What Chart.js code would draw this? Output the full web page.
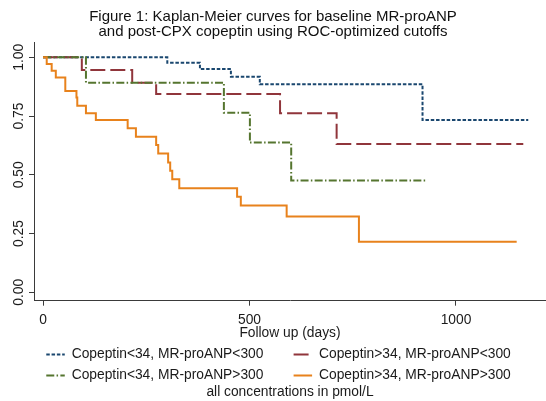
<!DOCTYPE html>
<html><head><meta charset="utf-8">
<script src="https://cdn.jsdelivr.net/npm/chart.js@4/dist/chart.umd.min.js"></script>
<style>html,body{margin:0;padding:0;background:#fff;}canvas{display:block;}</style>
</head><body>
<canvas id="c" width="546" height="401"></canvas>
<script>
// ---- Data ----
const seriesNames = [
  'Copeptin<34, MR-proANP<300',
  'Copeptin>34, MR-proANP<300',
  'Copeptin<34, MR-proANP>300',
  'Copeptin>34, MR-proANP>300'
];
const daysA = [0, 301, 380, 455, 525, 919, 1175];
const survA = [1, 0.977, 0.950, 0.917, 0.885, 0.733, 0.733];
const daysB = [0, 94, 216, 274, 574, 711, 1163];
const survB = [1, 0.946, 0.892, 0.844, 0.762, 0.631, 0.631];
const daysC = [0, 104, 438, 501, 601, 927];
const survC = [1, 0.892, 0.764, 0.637, 0.476, 0.476];
const daysD = [0, 9, 21, 31, 54, 81, 83, 104, 128, 205, 225, 274, 279, 303, 308, 313, 330, 470, 479, 590, 765, 1147];
const survD = [1, 0.971, 0.943, 0.914, 0.857, 0.829, 0.794, 0.762, 0.733, 0.698, 0.662, 0.627, 0.591, 0.552, 0.517, 0.481, 0.443, 0.407, 0.369, 0.322, 0.215, 0.215];
const xTickValues = [0, 500, 1000];
const xTickLabels = ['0', '500', '1000'];
const yTickValues = [0, 0.25, 0.5, 0.75, 1];
const yTickLabels = ['0.00', '0.25', '0.50', '0.75', '1.00'];
const titleLines = ['Figure 1: Kaplan-Meier curves for baseline MR-proANP', 'and post-CPX copeptin using ROC-optimized cutoffs'];
const xTitle = 'Follow up (days)';
const noteText = 'all concentrations in pmol/L';

// ---- Styles ----
const FONT = "'Liberation Sans', Arial, Helvetica, sans-serif";
const TXT = '#1a1a1a';
const AX = '#3a3a3a';
Chart.defaults.font.family = FONT;
Chart.defaults.color = TXT;

const zip = (xs, ys) => xs.map((x, i) => ({x: x, y: ys[i]}));
const styles = [
  {color: '#1a476f', dash: [3.5, 1.8], order: 3},
  {color: '#90353b', dash: [15, 5], order: 2},
  {color: '#55752f', dash: [8, 2.3, 1.5, 2.3], order: 1},
  {color: '#e8821c', dash: [], order: 0}
];
const series = [[daysA, survA], [daysB, survB], [daysC, survC], [daysD, survD]];

const datasets = series.map((s, i) => ({
  label: seriesNames[i],
  data: zip(s[0], s[1]),
  borderColor: styles[i].color,
  backgroundColor: styles[i].color,
  borderDash: styles[i].dash,
  borderWidth: 2,
  borderCapStyle: 'butt',
  stepped: true,
  showLine: true,
  fill: false,
  pointRadius: 0,
  pointHoverRadius: 0,
  order: styles[i].order
}));

new Chart(document.getElementById('c'), {
  type: 'scatter',
  data: {datasets: datasets},
  options: {
    responsive: false,
    animation: false,
    events: [],
    layout: {padding: {top: 0, left: 0, right: 0, bottom: 0}},
    scales: {
      x: {
        type: 'linear',
        min: -21.8,
        max: 1218,
        afterBuildTicks: (sc) => { sc.ticks = xTickValues.map(v => ({value: v})); },
        ticks: {
          autoSkip: false,
          maxRotation: 0,
          padding: 6,
          color: TXT,
          font: {size: 13.8, lineHeight: 1.2},
          callback: (v) => xTickLabels[xTickValues.indexOf(v)]
        },
        grid: {display: true, drawOnChartArea: false, drawTicks: true, tickLength: 5, color: AX, tickWidth: 1},
        border: {display: true, color: AX, width: 1},
        title: {display: true, text: xTitle, color: TXT, font: {size: 13.8, lineHeight: 1.2}, padding: {top: -9.5, bottom: -1}}
      },
      y: {
        type: 'linear',
        min: -0.0357,
        max: 1.065,
        afterBuildTicks: (sc) => { sc.ticks = yTickValues.map(v => ({value: v})); },
        afterFit: (sc) => { sc.width = 34; },
        ticks: {
          autoSkip: false,
          minRotation: 90,
          maxRotation: 90,
          crossAlign: 'center',
          padding: -4,
          color: TXT,
          font: {size: 13.8, lineHeight: 1.2},
          callback: (v) => yTickLabels[yTickValues.indexOf(v)]
        },
        grid: {display: true, drawOnChartArea: false, drawTicks: true, tickLength: 5, color: AX, tickWidth: 1},
        border: {display: true, color: AX, width: 1}
      }
    },
    plugins: {
      tooltip: {enabled: false},
      title: {
        display: true,
        text: titleLines,
        color: '#111',
        font: {size: 15, weight: 'normal', lineHeight: 0.967},
        padding: {top: 9.75, bottom: 3.25}
      },
      subtitle: {
        display: true,
        position: 'bottom',
        fullSize: false,
        text: noteText,
        color: TXT,
        font: {size: 13.8, lineHeight: 1.2},
        padding: {top: -8.7, bottom: 0.84}
      },
      legend: {
        display: true,
        position: 'bottom',
        fullSize: false,
        labels: {
          usePointStyle: true,
          pointStyle: 'line',
          pointStyleWidth: 18.5,
          padding: 7.2,
          color: TXT,
          font: {size: 13.8},
          sort: (a, b) => a.datasetIndex - b.datasetIndex,
          generateLabels: (chart) => Chart.defaults.plugins.legend.labels.generateLabels(chart)
            .map(l => {
              const ds = chart.data.datasets[l.datasetIndex];
              return Object.assign({}, l, {
                text: l.text + '      ',
                lineDash: ds.borderDash,
                lineWidth: ds.borderWidth,
                strokeStyle: ds.borderColor,
                lineCap: 'butt'
              });
            })
        }
      }
    }
  }
});
</script>
</body></html>
